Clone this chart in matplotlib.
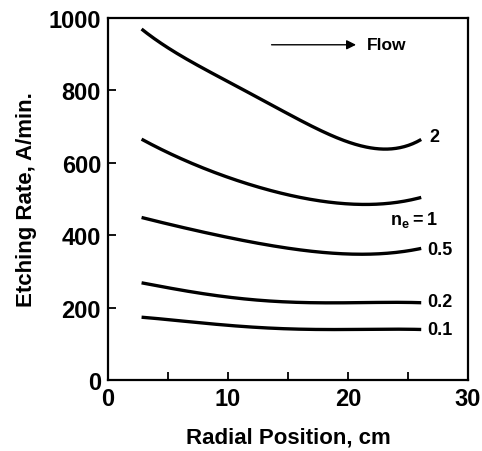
import numpy as np
import matplotlib.pyplot as plt

# radial position (cm) sampled along each curve
x_pts = [2.8, 5, 10, 15, 20, 22, 23, 25, 26.1]

# etching rate (A/min.) for each n_e curve
rate_2 = [967, 923, 818, 740, 657, 640, 637, 648, 665]
rate_1 = [663, 633, 555, 514, 489, 484, 485, 495, 506]
rate_05 = [449, 431, 394, 364, 348, 348, 350, 356, 364]
rate_02 = [268, 256, 228, 216, 214, 214, 214, 214, 214]
rate_01 = [173, 168, 150, 142, 140, 140, 140, 140, 140]

curves = [rate_2, rate_1, rate_05, rate_02, rate_01]
labels = ["2", "$\\mathregular{n_e = 1}$", "0.5", "0.2", "0.1"]
label_y = [674, 445, 360, 218, 140]

plt.rcParams['font.family'] = ['Liberation Sans', 'DejaVu Sans']

fig = plt.figure(figsize=(4.82, 4.52), dpi=100)
ax = fig.add_axes([0.224, 0.157, 0.747, 0.801])

xs = np.linspace(x_pts[0], x_pts[-1], 200)
for ys in curves:
	# smooth through the read points
	coef = np.polyfit(x_pts, ys, 4)
	ax.plot(xs, np.polyval(coef, xs), color='black', lw=2.4, solid_capstyle='butt')

for lab, ly in zip(labels, label_y):
	if lab == "2":
		ax.text(26.8, ly, lab, fontsize=13, fontweight='bold', va='center', ha='left')
	elif lab.startswith("$"):
		ax.text(27.5, ly, lab, fontsize=13, fontweight='bold', va='center', ha='right')
	else:
		ax.text(26.6, ly, lab, fontsize=13, fontweight='bold', va='center', ha='left')

# flow arrow
ax.annotate("", xy=(20.9, 926), xytext=(13.4, 926),
	arrowprops=dict(arrowstyle='-|>', color='black', lw=1.0, mutation_scale=14))
ax.text(21.6, 926, "Flow", fontsize=12.5, fontweight='bold', va='center', ha='left')

ax.set_xlim(0, 30)
ax.set_ylim(0, 1000)
ax.set_xticks([0, 10, 20, 30])
ax.set_xticks([5, 15, 25], minor=True)
ax.set_yticks([0, 200, 400, 600, 800, 1000])
ax.tick_params(direction='in', length=6, width=1.3, labelsize=17, pad=5)
ax.tick_params(which='minor', direction='in', length=6, width=1.3)
ax.tick_params(axis='y', which='both', left=True, right=False)
ax.tick_params(axis='x', which='both', top=False)
for lab in ax.get_xticklabels() + ax.get_yticklabels():
	lab.set_fontweight('bold')
for sp in ax.spines.values():
	sp.set_linewidth(1.6)

ax.set_xlabel("Radial Position, cm", fontsize=16, fontweight='bold', labelpad=12)
ax.set_ylabel("Etching Rate, A/min.", fontsize=16, fontweight='bold', labelpad=8)

fig.savefig("out.png", dpi=100)
